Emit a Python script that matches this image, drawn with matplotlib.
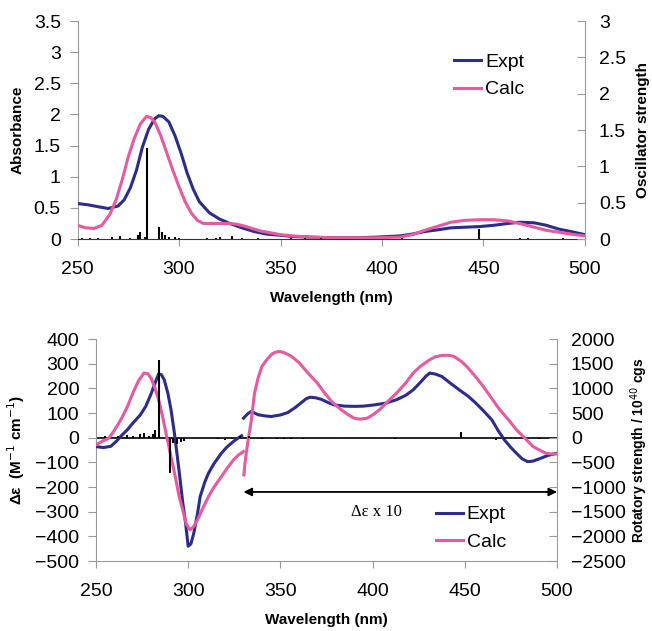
import matplotlib.pyplot as plt
import numpy as np
from matplotlib.ticker import FuncFormatter

plt.rcParams['font.family'] = ['Liberation Sans', 'DejaVu Sans']

NAVY = '#2b2c8c'
PINK = '#e8599f'
AXC = '#9a9a9a'

# --- UV absorbance (top) ---
abs_expt_wl = [250, 255, 260, 265, 270, 273, 276, 279, 282, 285, 288, 290, 292, 295,
               298, 301, 304, 307, 310, 315, 320, 325, 331, 337, 343, 350, 356, 365,
               376, 387, 397, 409, 415, 421, 428, 434, 441, 448, 455, 462, 468, 475,
               481, 487, 493, 500]
abs_expt = [0.57, 0.55, 0.52, 0.49, 0.53, 0.63, 0.82, 1.10, 1.48, 1.76, 1.93, 1.98, 1.97, 1.88,
            1.66, 1.38, 1.06, 0.80, 0.60, 0.42, 0.32, 0.25, 0.18, 0.12, 0.08, 0.06, 0.04, 0.03,
            0.02, 0.02, 0.03, 0.05, 0.08, 0.12, 0.15, 0.18, 0.19, 0.20, 0.22, 0.25, 0.27, 0.26,
            0.22, 0.16, 0.12, 0.07]

abs_calc_wl = [250, 254, 258, 262, 266, 269, 272, 275, 278, 281, 284, 286, 288, 291, 294,
               297, 300, 303, 306, 309, 312, 316, 320, 324, 328, 332, 336, 340, 345, 350,
               356, 365, 376, 387, 397, 409, 415, 421, 428, 434, 441, 448, 455, 462, 469,
               475, 481, 489, 495, 500]
abs_calc = [0.22, 0.18, 0.17, 0.22, 0.40, 0.63, 0.95, 1.32, 1.62, 1.85, 1.97, 1.95, 1.88, 1.66, 1.38,
            1.10, 0.84, 0.60, 0.42, 0.30, 0.25, 0.25, 0.25, 0.25, 0.24, 0.21, 0.17, 0.13, 0.10, 0.07,
            0.05, 0.03, 0.02, 0.02, 0.02, 0.03, 0.07, 0.14, 0.21, 0.27, 0.30, 0.31, 0.31, 0.29, 0.24,
            0.19, 0.14, 0.10, 0.07, 0.05]

osc_wl = [252, 256, 260, 267, 271, 276, 280, 281, 283, 284, 290, 291.5, 293, 295, 298, 300,
          314, 318, 320, 326, 331, 339, 355, 362, 370, 410, 448, 468, 472, 489]
osc_f = [0.02, 0.02, 0.01, 0.03, 0.04, 0.02, 0.06, 0.10, 0.03, 1.25, 0.17, 0.10, 0.05, 0.03, 0.03, 0.02,
         0.02, 0.02, 0.03, 0.04, 0.02, 0.01, 0.01, 0.01, 0.01, 0.01, 0.14, 0.02, 0.01, 0.01]

# --- CD (bottom) ---
cd_expt_wl1 = [250, 254, 258, 261, 264, 267, 270, 274, 277, 280, 282, 284, 285.5, 287, 289,
               290.7, 292.5, 295, 297, 298.6, 300, 301.5, 303, 305, 306.5, 309, 311, 314, 318,
               321, 324.6, 327, 329]
cd_expt1 = [-36, -40, -35, -15, 10, 32, 59, 92, 127, 180, 221, 259, 255, 235, 180,
            113, 20, -130, -260, -347, -440, -430, -388, -310, -239, -180, -144, -105, -63,
            -38, -15, -2, 8]
cd_expt_wl2 = [330, 332, 334, 336, 338, 342, 345, 350, 354, 358, 361, 364, 366, 369, 372, 376,
               379, 385, 390, 395, 401, 407, 413, 418, 422, 426, 429, 431, 434, 437.6, 442, 447,
               452, 456, 460, 464.7, 468, 471.5, 475, 478, 481, 484, 487, 491, 495, 500]
cd_expt2 = [79, 95, 106, 100, 93, 88, 86, 92, 102, 122, 140, 158, 164, 162, 156, 142,
            133, 128, 127, 128, 133, 140, 154, 172, 194, 225, 250, 262, 258, 248, 222, 194,
            167, 140, 110, 72, 30, -9, -40, -63, -85, -97, -95, -84, -72, -63]

cd_calc_wl1 = [250, 254, 257, 260, 263.5, 267, 270, 273, 276, 278, 280, 282, 284, 286, 288,
               290.5, 293, 295, 297.5, 299, 301, 303, 305, 308, 311, 314, 318, 321, 324.6, 327, 330]
cd_calc1 = [-29, -12, -2, 30, 73, 125, 181, 230, 262, 260, 240, 200, 154, 90, 18,
            -70, -158, -235, -306, -350, -374, -360, -334, -285, -239, -200, -158, -125, -90, -72, -56]
cd_calc_wl2 = [330.2, 331, 332.5, 334, 336, 338, 340, 343, 345, 347, 349.5, 352, 356, 360, 365,
               370, 374, 378, 383, 387, 390, 393, 397, 400, 403.7, 408, 413, 418, 422, 426, 431,
               434, 437.6, 441, 444, 448, 451, 455, 460, 465, 469, 474, 478, 483, 487, 491, 494,
               497, 500]
cd_calc2 = [-151, -90, -10, 59, 181, 245, 289, 320, 336, 346, 350, 345, 330, 305, 262,
            222, 181, 145, 113, 92, 79, 75, 79, 92, 113, 145, 181, 222, 262, 290, 316,
            328, 334, 334, 330, 310, 289, 255, 208, 155, 113, 70, 32, -5, -36, -52, -63,
            -66, -66]

rot_wl = [255, 262, 267, 270, 274, 276, 279, 281, 282, 284, 290, 292, 294, 296, 298, 316, 320,
          324, 328, 333, 340, 348, 352, 356, 362, 370, 412, 448, 467, 471, 490]
rot_R = [40, 30, 60, 30, 70, 100, 40, 80, 150, 1565, -720, -100, -120, -80, -60, -30, -40,
         -30, 30, 40, -30, -20, -25, -20, -20, -15, -20, 120, -50, -30, -20]

wl_ticks = [250, 300, 350, 400, 450, 500]

fmt = FuncFormatter(lambda v, p: '%g' % v)
TICK_FS = 14
LAB_FS = 11


def style_left(ax):
    for s in ['top', 'right']:
        ax.spines[s].set_visible(False)
    for s in ['left', 'bottom']:
        ax.spines[s].set_color(AXC)
    ax.tick_params(axis='y', direction='out', length=6, color=AXC, labelsize=TICK_FS, pad=6)
    ax.tick_params(axis='x', direction='out', length=5, color=AXC, labelsize=TICK_FS, pad=11)


def style_right(ax):
    for s in ['top', 'bottom', 'left']:
        ax.spines[s].set_visible(False)
    ax.spines['right'].set_color(AXC)
    ax.tick_params(axis='y', direction='in', length=6, color=AXC, labelsize=TICK_FS, pad=10)


leg_kw = dict(loc='upper left', frameon=False, fontsize=14, handlelength=1.4,
              handletextpad=0.2, labelspacing=0.5, borderaxespad=0)

fig = plt.figure(figsize=(6.52, 6.31), dpi=100)

# ---------- top panel ----------
ax1 = fig.add_axes([0.1189, 0.6212, 0.7783, 0.3455])
ax1b = ax1.twinx()
ax1.plot(abs_expt_wl, abs_expt, color=NAVY, lw=2.2, label='Expt', zorder=3)
ax1.plot(abs_calc_wl, abs_calc, color=PINK, lw=2.2, label='Calc', zorder=3)
ax1b.vlines(osc_wl, 0, osc_f, color='black', lw=1.5)
ax1.set_xlim(250, 500)
ax1.set_ylim(0, 3.5)
ax1b.set_ylim(0, 3)
ax1.set_xticks(wl_ticks)
ax1.set_yticks(np.arange(0, 3.51, 0.5))
ax1b.set_yticks(np.arange(0, 3.01, 0.5))
ax1.yaxis.set_major_formatter(fmt)
ax1b.yaxis.set_major_formatter(fmt)
style_left(ax1)
style_right(ax1b)
ax1.spines['bottom'].set_color('#333333')
ax1.set_xlabel('Wavelength (nm)', fontsize=LAB_FS, fontweight='bold', labelpad=9)
ax1.set_ylabel('Absorbance', fontsize=LAB_FS, fontweight='bold')
ax1b.set_ylabel('Oscillator strength', fontsize=LAB_FS, fontweight='bold')
ax1.yaxis.set_label_coords(-0.105, 0.5)
ax1b.yaxis.set_label_coords(1.1, 0.5)
ax1.legend(bbox_to_anchor=(0.727, 0.887), **leg_kw)

# ---------- bottom panel ----------
ax2 = fig.add_axes([0.1472, 0.1109, 0.7071, 0.3518])
ax2b = ax2.twinx()
ax2.axhline(0, color='black', lw=1.2, zorder=2)
ax2b.vlines(rot_wl, 0, rot_R, color='black', lw=1.5)
l1, = ax2.plot(cd_expt_wl1, cd_expt1, color=NAVY, lw=2.2, label='Expt', zorder=3)
ax2.plot(cd_expt_wl2, cd_expt2, color=NAVY, lw=2.2, zorder=3)
l2, = ax2.plot(cd_calc_wl1, cd_calc1, color=PINK, lw=2.2, label='Calc', zorder=3)
ax2.plot(cd_calc_wl2, cd_calc2, color=PINK, lw=2.2, zorder=3)
ax2.set_xlim(250, 500)
ax2.set_ylim(-500, 400)
ax2b.set_ylim(-2500, 2000)
ax2.set_xticks(wl_ticks)
ax2.set_yticks(np.arange(-500, 401, 100))
ax2b.set_yticks(np.arange(-2500, 2001, 500))
style_left(ax2)
style_right(ax2b)
ax2.annotate('', xy=(330, -220), xytext=(500, -220),
             arrowprops=dict(arrowstyle='<|-|>', color='black', lw=1.3,
                             mutation_scale=12, shrinkA=0, shrinkB=0))
ax2.text(402, -300, 'Δε x 10', family=['Liberation Serif', 'DejaVu Serif'],
         fontsize=12, ha='center', va='center')
ax2.set_xlabel('Wavelength (nm)', fontsize=LAB_FS, fontweight='bold', labelpad=9)
ax2.set_ylabel('Δε  (M$^{-1}$ cm$^{-1}$)', fontsize=LAB_FS, fontweight='bold')
ax2b.set_ylabel('Rotatory strength / 10$^{40}$ cgs', fontsize=10, fontweight='bold')
ax2.yaxis.set_label_coords(-0.15, 0.5)
ax2b.yaxis.set_label_coords(1.155, 0.5)
ax2.legend(handles=[l1, l2], bbox_to_anchor=(0.72, 0.284), **leg_kw)

fig.savefig('out.png', dpi=100)
